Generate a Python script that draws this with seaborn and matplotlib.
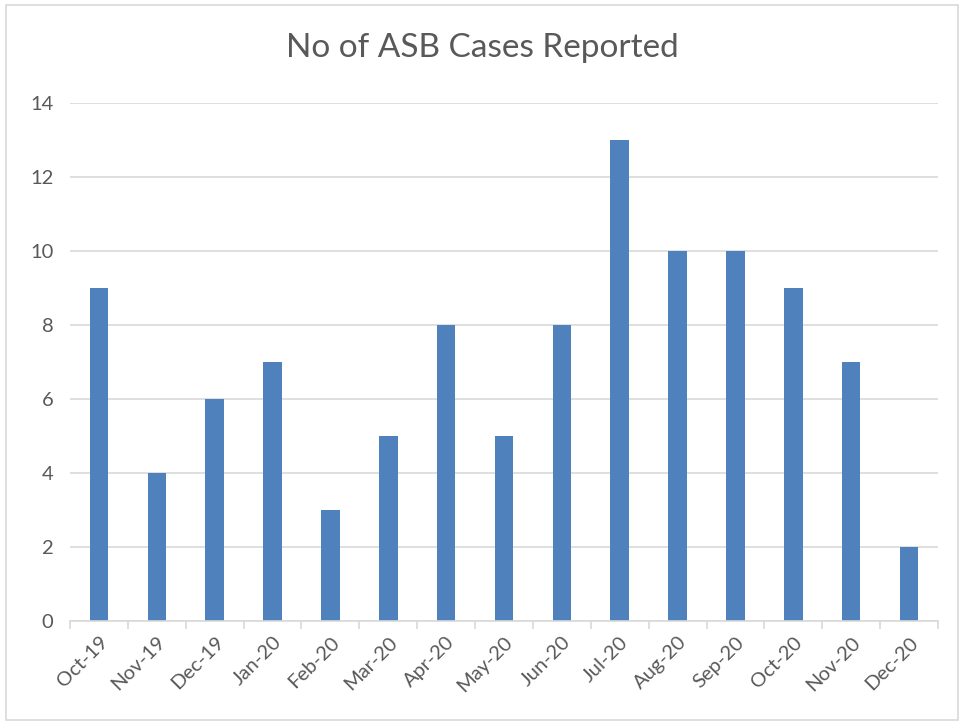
import matplotlib
matplotlib.use("Agg")
import matplotlib.pyplot as plt
import seaborn as sns
import pandas as pd
from matplotlib.patches import Rectangle

months = ["Oct-19", "Nov-19", "Dec-19", "Jan-20", "Feb-20", "Mar-20", "Apr-20", "May-20",
          "Jun-20", "Jul-20", "Aug-20", "Sep-20", "Oct-20", "Nov-20", "Dec-20"]
cases = [9, 4, 6, 7, 3, 5, 8, 5, 8, 13, 10, 10, 9, 7, 2]
yticks = [0, 2, 4, 6, 8, 10, 12, 14]
title = "No of ASB Cases Reported"

sns.set_theme(style="white")
plt.rcParams['font.family'] = ['Lato', 'DejaVu Sans']

df = pd.DataFrame({"month": months, "cases": cases})

fig = plt.figure(figsize=(9.64, 7.25), dpi=100)
ax = fig.add_axes([70/964, 1 - 621/725, (938-70)/964, (621-103)/725])

sns.barplot(data=df, x="month", y="cases", color="#4F81BD", saturation=1,
            width=0.32, ax=ax, zorder=3, linewidth=0)

ax.set_ylim(0, 14)
ax.set_xlim(-0.5, len(months) - 0.5)
ax.set_yticks(yticks)
ax.set_yticklabels([str(t) for t in yticks])
ax.yaxis.grid(True, color="#D9D9D9", linewidth=1.2, zorder=0)
ax.set_xlabel("")
ax.set_ylabel("")
for s in ["top", "right", "left"]:
    ax.spines[s].set_visible(False)
ax.spines["bottom"].set_color("#D9D9D9")
ax.spines["bottom"].set_linewidth(1.2)
ax.spines["bottom"].set_zorder(4)

ax.set_xticks([i for i in range(len(months))])
ax.set_xticklabels(months, rotation=45, ha="right", rotation_mode="anchor",
                   color="#595959", fontsize=14.5)
ax.tick_params(axis="x", length=0, pad=9)
ax.set_xticks([i - 0.5 for i in range(len(months) + 1)], minor=True)
ax.tick_params(axis="x", which="minor", length=6, width=1.2, color="#D9D9D9", bottom=True)
ax.tick_params(axis="y", length=0, pad=12, labelcolor="#595959", labelsize=14.5)

fig.text(0.5, 1 - 48/725, title, ha="center", va="center", fontsize=24, color="#595959")

fig.patches.append(Rectangle((6/964, 1 - 720/725), (958-6)/964, (720-5)/725,
                             transform=fig.transFigure, fill=False,
                             edgecolor="#D9D9D9", linewidth=1.2))

fig.savefig("out.png", dpi=100)
